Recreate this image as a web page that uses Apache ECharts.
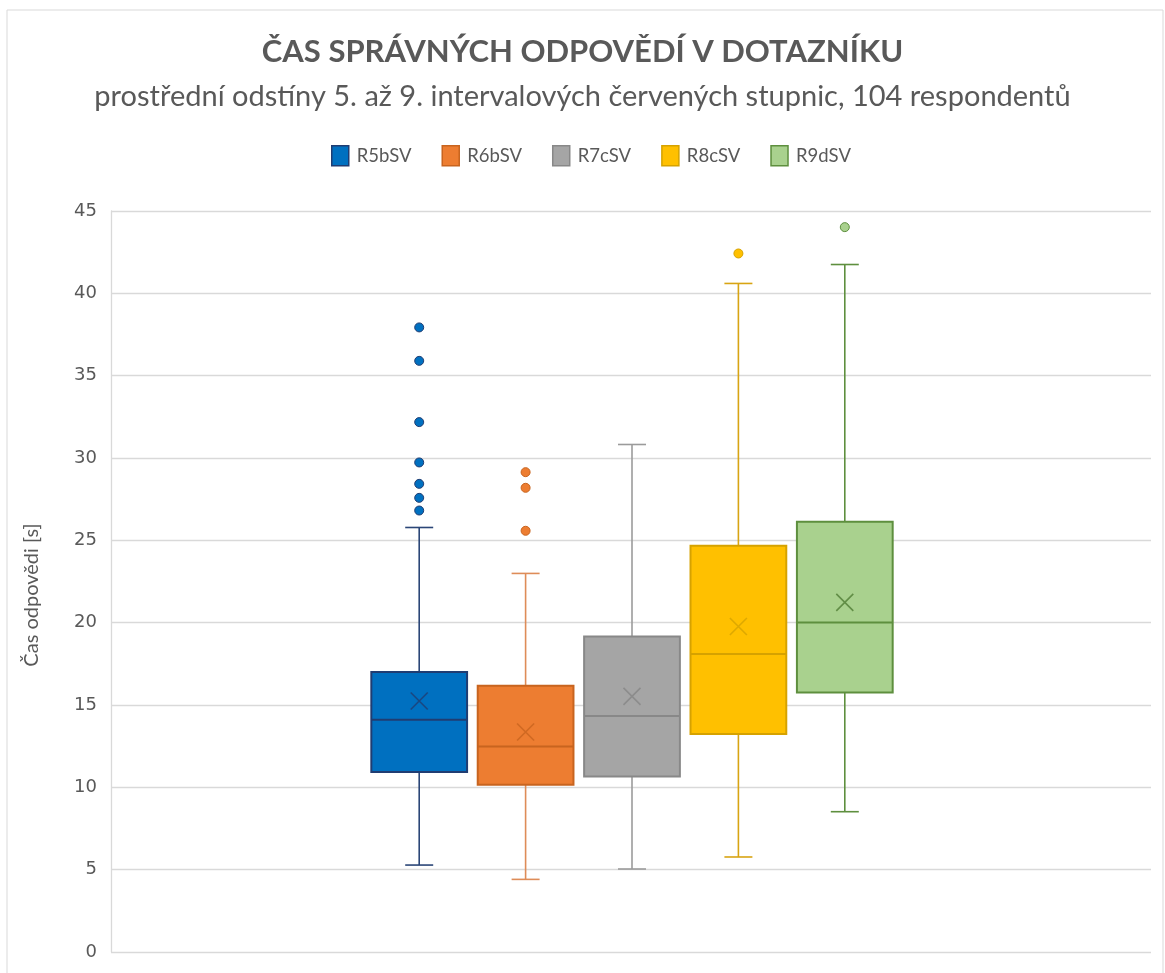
<!DOCTYPE html>
<html>
<head>
<meta charset="utf-8">
<script src="https://cdn.jsdelivr.net/npm/echarts@6/dist/echarts.min.js"></script>
<style>
  html, body { margin: 0; padding: 0; background: #fff; }
  #chart { width: 1165px; height: 973px; }
</style>
</head>
<body>
<div id="chart"></div>
<script>
// kategorie (stupnice)
const names = ['R5bSV', 'R6bSV', 'R7cSV', 'R8cSV', 'R9dSV'];

// [min, Q1, medián, Q3, max]
const boxR5 = [5.28, 10.93, 14.10, 17.00, 25.78];
const boxR6 = [4.41, 10.16, 12.48, 16.17, 22.99];
const boxR7 = [5.04, 10.66, 14.33, 19.16, 30.82];
const boxR8 = [5.77, 13.24, 18.09, 24.67, 40.60];
const boxR9 = [8.52, 15.76, 20.01, 26.13, 41.75];

// průměry (X)
const means = [15.24, 13.36, 15.52, 19.77, 21.23];

// odlehlé hodnoty
const outR5 = [26.81, 27.58, 28.43, 29.73, 32.18, 35.90, 37.93];
const outR6 = [25.58, 28.19, 29.14];
const outR7 = [];
const outR8 = [42.42];
const outR9 = [44.02];

const yTicks = [0, 5, 10, 15, 20, 25, 30, 35, 40, 45];

const boxes = [boxR5, boxR6, boxR7, boxR8, boxR9];
const outliers = [outR5, outR6, outR7, outR8, outR9];

// barvy: výplň, okraj, vousy, křížek
const palette = [
  { fill: '#0070C0', border: '#203D72', whisker: '#2B4677', mark: '#203D72' },
  { fill: '#ED7D31', border: '#C8641F', whisker: '#DE8C58', mark: '#C8641F' },
  { fill: '#A5A5A5', border: '#888888', whisker: '#9B9B9B', mark: '#868686' },
  { fill: '#FFC000', border: '#D6A200', whisker: '#D8A413', mark: '#D6A200' },
  { fill: '#A9D18E', border: '#5E8F3E', whisker: '#5E8F3E', mark: '#507D34' }
];

const chart = echarts.init(document.getElementById('chart'));

function makeBox(col) {
  return function (params, api) {
    const i = api.value(0);
    const x = api.coord([i, 0])[0];
    const yMin = api.coord([i, api.value(1)])[1];
    const yQ1 = api.coord([i, api.value(2)])[1];
    const yMed = api.coord([i, api.value(3)])[1];
    const yQ3 = api.coord([i, api.value(4)])[1];
    const yMax = api.coord([i, api.value(5)])[1];
    const bw = api.size([1, 0])[0] * 0.9;
    const cap = 28;
    const wl = { stroke: col.whisker, lineWidth: 1.6 };
    return {
      type: 'group',
      children: [
        { type: 'line', shape: { x1: x, y1: yMax, x2: x, y2: yQ3 }, style: wl },
        { type: 'line', shape: { x1: x, y1: yQ1, x2: x, y2: yMin }, style: wl },
        { type: 'line', shape: { x1: x - cap / 2, y1: yMax, x2: x + cap / 2, y2: yMax }, style: wl },
        { type: 'line', shape: { x1: x - cap / 2, y1: yMin, x2: x + cap / 2, y2: yMin }, style: wl },
        { type: 'rect', shape: { x: x - bw / 2, y: yQ3, width: bw, height: yQ1 - yQ3 },
          style: { fill: col.fill, stroke: col.border, lineWidth: 2 } },
        { type: 'line', shape: { x1: x - bw / 2, y1: yMed, x2: x + bw / 2, y2: yMed },
          style: { stroke: col.border, lineWidth: 2 } }
      ]
    };
  };
}

const series = [];
names.forEach(function (n, i) {
  const col = palette[i];
  series.push({
    name: n,
    type: 'custom',
    xAxisIndex: 1,
    yAxisIndex: 1,
    renderItem: makeBox(col),
    itemStyle: { color: col.fill, borderColor: col.border },
    encode: { x: 0, y: [1, 2, 3, 4, 5] },
    data: [[i].concat(boxes[i])],
    z: 2
  });
  series.push({
    name: n,
    type: 'scatter',
    xAxisIndex: 1,
    yAxisIndex: 1,
    symbol: 'path://M0,0L10,10M10,0L0,10',
    symbolSize: 17,
    itemStyle: { color: 'none', borderColor: col.mark, borderWidth: 1.6 },
    data: [[i, means[i]]],
    z: 4
  });
  series.push({
    name: n,
    type: 'scatter',
    xAxisIndex: 1,
    yAxisIndex: 1,
    symbol: 'circle',
    symbolSize: 9,
    itemStyle: { color: col.fill, borderColor: col.border, borderWidth: 1, opacity: 1 },
    data: outliers[i].map(function (v) { return [i, v]; }),
    z: 4
  });
});

const option = {
  backgroundColor: '#ffffff',
  animation: false,
  title: [
    {
      text: 'ČAS SPRÁVNÝCH ODPOVĚDÍ V DOTAZNÍKU',
      left: 'center',
      top: 31,
      textStyle: { fontFamily: 'Lato', fontWeight: 'bold', fontSize: 31, color: '#595959' }
    },
    {
      text: 'prostřední odstíny 5. až 9. intervalových červených stupnic, 104 respondentů',
      left: 'center',
      top: 77,
      textStyle: { fontFamily: 'Lato', fontWeight: 'normal', fontSize: 29, color: '#595959' }
    }
  ],
  legend: {
    top: 140,
    left: 326,
    itemWidth: 17,
    itemHeight: 20,
    itemGap: 30,
    textStyle: { fontFamily: 'Lato', fontSize: 18.5, color: '#595959', padding: [0, 0, 0, 3] },
    data: names.map(function (n, i) {
      return {
        name: n,
        icon: 'rect',
        itemStyle: { color: palette[i].fill, borderColor: palette[i].border, borderWidth: 1.5 }
      };
    })
  },
  graphic: [
    {
      type: 'rect',
      shape: { x: 7, y: 10, width: 1156, height: 990 },
      style: { fill: 'none', stroke: '#d9d9d9', lineWidth: 1 },
      silent: true
    },
    {
      type: 'text',
      x: 32,
      y: 595,
      rotation: Math.PI / 2,
      style: {
        text: 'Čas odpovědi [s]',
        align: 'center',
        verticalAlign: 'middle',
        font: '20px Lato',
        fill: '#595959'
      },
      silent: true
    }
  ],
  grid: [
    { left: 111, right: 14, top: 211, bottom: 21 },
    { left: 366, right: 267, top: 211, bottom: 21 }
  ],
  xAxis: [
    {
      gridIndex: 0,
      type: 'category',
      data: [''],
      axisLine: { show: false },
      axisTick: { show: false },
      axisLabel: { show: false }
    },
    {
      gridIndex: 1,
      type: 'category',
      data: names,
      boundaryGap: true,
      show: false
    }
  ],
  yAxis: [
    {
      gridIndex: 0,
      type: 'value',
      min: yTicks[0],
      max: yTicks[yTicks.length - 1],
      interval: 5,
      axisLine: { show: true, lineStyle: { color: '#d9d9d9', width: 1.3 } },
      axisTick: { show: false },
      axisLabel: { fontFamily: 'DejaVu Sans', fontSize: 18, color: '#595959', margin: 14 },
      splitLine: { show: true, lineStyle: { color: '#d9d9d9', width: 1.3 } }
    },
    {
      gridIndex: 1,
      type: 'value',
      min: yTicks[0],
      max: yTicks[yTicks.length - 1],
      show: false,
      splitLine: { show: false }
    }
  ],
  series: series
};

chart.setOption(option);
window.addEventListener('resize', () => chart.resize());
</script>
</body>
</html>
